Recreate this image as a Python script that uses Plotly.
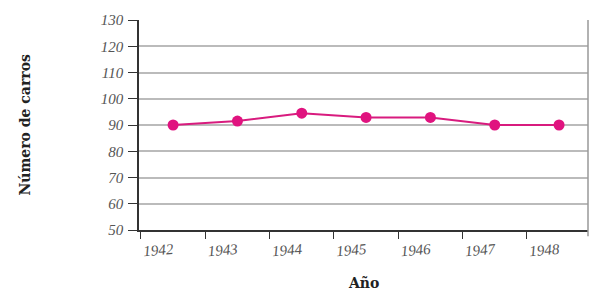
import plotly.graph_objects as go

years = ["1942", "1943", "1944", "1945", "1946", "1947", "1948"]
carros = [90, 91.5, 94.5, 92.9, 92.9, 90, 90]
y_ticks = [50, 60, 70, 80, 90, 100, 110, 120, 130]

fig = go.Figure()
fig.add_trace(go.Scatter(
    x=years, y=carros, mode="lines+markers",
    line=dict(color="#D81B7E", width=2),
    marker=dict(color="#E0137F", size=11),
))

fig.update_layout(
    width=607, height=300,
    margin=dict(l=139, r=19, t=20, b=70, autoexpand=False),
    paper_bgcolor="white", plot_bgcolor="white",
    showlegend=False,
    font=dict(family="Liberation Serif"),
    xaxis=dict(
        type="category", range=[-0.53, 6.45], tickson="boundaries", ticks="outside", ticklen=7,
        tickcolor="#333333", showgrid=False, showline=True, linecolor="#333333",
        linewidth=1.5, tickangle=-5, automargin=False, ticklabelstandoff=4,
        tickfont=dict(family="Liberation Serif", size=15, color="#555555", style="italic"),
    ),
    yaxis=dict(
        range=[50, 130], tickvals=y_ticks, ticks="outside", ticklen=9,
        tickcolor="#333333", showgrid=True, gridcolor="#BBBBBB", gridwidth=1.5,
        showline=True, linecolor="#333333", linewidth=1.5, automargin=False,
        tickfont=dict(family="Liberation Serif", size=15, color="#555555", style="italic"),
        ticklabelstandoff=2, zeroline=False,
    ),
)
fig.add_annotation(text="<b>Número de carros</b>", xref="paper", yref="paper",
                   x=-0.255, y=0.5, xanchor="center", yanchor="middle", textangle=-90,
                   showarrow=False, font=dict(family="DejaVu Serif", size=14, color="#222222"))
fig.add_annotation(text="<b>Año</b>", xref="paper", yref="paper",
                   x=0.5, y=-0.25, xanchor="center", yanchor="middle",
                   showarrow=False, font=dict(family="DejaVu Serif", size=14, color="#222222"))
fig.add_shape(type="line", xref="paper", yref="paper", x0=1, x1=1, y0=-0.03, y1=1,
              line=dict(color="#999999", width=1.5))
fig.write_html("out.html", config={"displayModeBar": False},
               post_script="document.body.style.margin='0';")
